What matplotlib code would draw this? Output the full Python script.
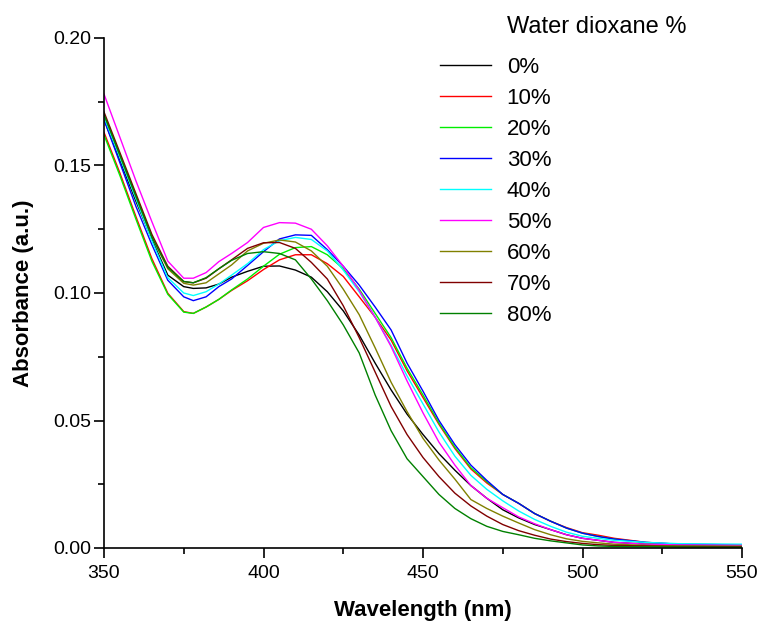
import matplotlib
matplotlib.use("Agg")
import matplotlib.pyplot as plt
from matplotlib.ticker import MultipleLocator

plt.rcParams["font.family"] = ["Liberation Sans", "DejaVu Sans"]

# comprimentos de onda (nm)
wl = [350, 355, 360, 365, 370, 375, 378, 382, 386, 390, 395, 400, 405, 410, 415,
      420, 425, 430, 435, 440, 445, 450, 455, 460, 465, 470, 475, 480, 485, 490,
      495, 500, 505, 510, 520, 530, 550]

# absorbancias
a0 = [0.168, 0.152, 0.136, 0.121, 0.107, 0.1025, 0.1018, 0.102, 0.1035, 0.1062, 0.1085,
      0.1105, 0.1106, 0.109, 0.1062, 0.1005, 0.093, 0.0835, 0.0725, 0.062, 0.0525, 0.0445,
      0.037, 0.0305, 0.0245, 0.0195, 0.015, 0.0118, 0.0092, 0.0072, 0.0052, 0.0038, 0.003,
      0.0022, 0.0015, 0.0012, 0.0010]
a10 = [0.163, 0.147, 0.130, 0.1135, 0.0999, 0.0927, 0.092, 0.0945, 0.0975, 0.101, 0.1048,
       0.1092, 0.113, 0.115, 0.115, 0.1115, 0.1065, 0.0985, 0.0905, 0.0815, 0.0695, 0.059,
       0.0485, 0.039, 0.031, 0.0255, 0.021, 0.0175, 0.0135, 0.0105, 0.008, 0.006, 0.005,
       0.0038, 0.0022, 0.0015, 0.0012]
a20 = [0.162, 0.146, 0.129, 0.1125, 0.0995, 0.0925, 0.092, 0.0945, 0.0975, 0.1012, 0.1055,
       0.1105, 0.1152, 0.1178, 0.1182, 0.115, 0.1095, 0.1015, 0.092, 0.0825, 0.0705, 0.060,
       0.049, 0.0395, 0.0315, 0.026, 0.021, 0.0175, 0.0135, 0.0105, 0.0078, 0.0058, 0.0045,
       0.0035, 0.002, 0.0014, 0.001]
a30 = [0.168, 0.151, 0.134, 0.119, 0.105, 0.0985, 0.097, 0.0985, 0.1025, 0.1055, 0.1108,
       0.1162, 0.1212, 0.1228, 0.1226, 0.117, 0.1105, 0.1031, 0.0945, 0.0855, 0.0725, 0.0615,
       0.050, 0.0405, 0.0325, 0.0265, 0.021, 0.0175, 0.0135, 0.0105, 0.0078, 0.0058, 0.0045,
       0.0035, 0.0022, 0.0015, 0.0012]
a40 = [0.169, 0.153, 0.137, 0.1205, 0.106, 0.100, 0.099, 0.1005, 0.1035, 0.107, 0.1115,
       0.117, 0.1205, 0.1218, 0.121, 0.1165, 0.109, 0.1005, 0.0905, 0.0795, 0.0675, 0.0565,
       0.0455, 0.036, 0.0285, 0.023, 0.0185, 0.0145, 0.0112, 0.0085, 0.0062, 0.0046, 0.0038,
       0.003, 0.0022, 0.0017, 0.0015]
a50 = [0.178, 0.161, 0.144, 0.128, 0.1125, 0.1058, 0.1058, 0.108, 0.1123, 0.1155, 0.1198,
       0.1257, 0.1276, 0.1274, 0.125, 0.1185, 0.1105, 0.101, 0.0905, 0.079, 0.0655, 0.053,
       0.0415, 0.0325, 0.0245, 0.0195, 0.0158, 0.0122, 0.0095, 0.0072, 0.0052, 0.0038, 0.003,
       0.0022, 0.0015, 0.0012, 0.001]
a60 = [0.170, 0.154, 0.138, 0.122, 0.1095, 0.1038, 0.1031, 0.104, 0.1075, 0.111, 0.1165,
       0.1195, 0.1208, 0.120, 0.1165, 0.1105, 0.1015, 0.0915, 0.0785, 0.065, 0.0535, 0.043,
       0.0345, 0.027, 0.019, 0.0155, 0.0125, 0.0098, 0.0072, 0.0052, 0.0036, 0.0026, 0.002,
       0.0015, 0.001, 0.0008, 0.0007]
a70 = [0.171, 0.155, 0.139, 0.123, 0.1105, 0.1045, 0.104, 0.1058, 0.1095, 0.113, 0.1175,
       0.1197, 0.1198, 0.1175, 0.112, 0.1055, 0.095, 0.0825, 0.069, 0.0555, 0.0445, 0.0355,
       0.028, 0.0215, 0.0165, 0.0125, 0.0092, 0.0068, 0.005, 0.0035, 0.0025, 0.0018, 0.0013,
       0.001, 0.0008, 0.0006, 0.0005]
a80 = [0.170, 0.154, 0.138, 0.122, 0.110, 0.1045, 0.104, 0.106, 0.1095, 0.1128, 0.1155,
       0.1162, 0.1155, 0.113, 0.1055, 0.097, 0.0875, 0.0765, 0.060, 0.046, 0.035, 0.028,
       0.021, 0.0155, 0.0115, 0.0085, 0.0065, 0.0052, 0.0038, 0.0028, 0.002, 0.0012, 0.0008,
       0.0006, 0.0005, 0.0004, 0.0003]

series = [a0, a10, a20, a30, a40, a50, a60, a70, a80]
labels = ["0%", "10%", "20%", "30%", "40%", "50%", "60%", "70%", "80%"]
cores = ["black", "red", "#00ee00", "blue", "cyan", "magenta", "#808000", "#800000", "green"]

fig = plt.figure(figsize=(7.61, 6.27), dpi=100)
ax = fig.add_axes([104 / 761, 79 / 627, 638 / 761, 510 / 627])

for y, lab, c in zip(series, labels, cores):
    ax.plot(wl, y, color=c, lw=1.0, label=lab)

ax.set_xlim(350, 550)
ax.set_ylim(0, 0.20)
ax.xaxis.set_major_locator(MultipleLocator(50))
ax.xaxis.set_minor_locator(MultipleLocator(25))
ax.yaxis.set_major_locator(MultipleLocator(0.05))
ax.yaxis.set_minor_locator(MultipleLocator(0.025))
ax.yaxis.set_major_formatter(plt.FuncFormatter(lambda v, p: f"{v:.2f}"))

for s in ["top", "right"]:
    ax.spines[s].set_visible(False)
for s in ["left", "bottom"]:
    ax.spines[s].set_linewidth(1.2)

ax.tick_params(which="major", direction="out", length=7, width=1.2, labelsize=14, pad=2)
ax.tick_params(which="minor", direction="out", length=4, width=1.2)
ax.tick_params(axis="x", which="major", pad=5)

ax.set_xlabel("Wavelength (nm)", fontsize=16, fontweight="bold", labelpad=13)
ax.set_ylabel("Absorbance (a.u.)", fontsize=16, fontweight="bold", labelpad=14)

leg = ax.legend(loc="upper left", bbox_to_anchor=(440 / 761, 1 - 57 / 627),
                bbox_transform=fig.transFigure, frameon=False, fontsize=16,
                handlelength=2.3, handletextpad=0.7, labelspacing=0.45,
                borderpad=0, borderaxespad=0)
fig.text(507 / 761, 1 - 27 / 627, "Water dioxane %", fontsize=17, va="center", ha="left")

fig.savefig("out.png", dpi=100)
